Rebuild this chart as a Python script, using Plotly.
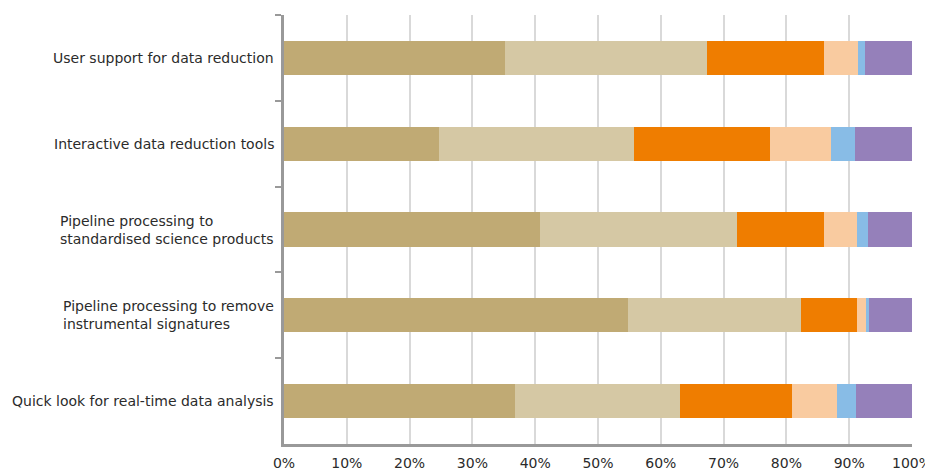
import plotly.graph_objects as go

categories = [
    "User support for data reduction",
    "Interactive data reduction tools",
    "Pipeline processing to<br>standardised science products",
    "Pipeline processing to remove<br>instrumental signatures",
    "Quick look for real-time data analysis",
]

s1 = [35.2, 24.7, 40.8, 54.8, 36.8]
s2 = [32.2, 31.1, 31.4, 27.5, 26.3]
s3 = [18.6, 21.6, 13.8, 8.9, 17.8]
s4 = [5.4, 9.7, 5.2, 1.5, 7.2]
s5 = [1.1, 3.9, 1.8, 0.5, 3.0]
s6 = [7.5, 9.0, 7.0, 6.8, 8.9]

series = [s1, s2, s3, s4, s5, s6]
colors = ["#C0AA74", "#D5C8A4", "#EF7D00", "#F9CBA0", "#88BCE6", "#9580BA"]

xticks = [0, 10, 20, 30, 40, 50, 60, 70, 80, 90, 100]
xticklabels = [f"{v}%" for v in xticks]

FONT = "DejaVu Sans, Liberation Sans, Arial, sans-serif"

fig = go.Figure()
for vals, c in zip(series, colors):
    fig.add_trace(go.Bar(
        y=categories, x=vals, orientation="h",
        marker=dict(color=c, line=dict(width=0)),
        showlegend=False,
    ))

for cat in categories:
    fig.add_annotation(
        x=0, xref="paper", y=cat, yref="y",
        text=cat, showarrow=False, xanchor="right", yanchor="middle",
        align="left", xshift=-8,
        font=dict(family=FONT, size=14, color="#2b2b2b"),
    )

fig.update_layout(
    template="none",
    barmode="stack",
    bargap=0.6,
    width=925, height=465,
    margin=dict(l=276, r=21, t=7, b=29),
    plot_bgcolor="white", paper_bgcolor="white",
    font=dict(family=FONT, size=14, color="#2b2b2b"),
    xaxis=dict(
        range=[0, 100], tickvals=xticks, ticktext=xticklabels,
        showgrid=True, gridcolor="#D9D9D9", gridwidth=1.5,
        showline=True, linecolor="#999999", linewidth=2.5,
        ticks="", zeroline=False, fixedrange=True, automargin=False,
        ticklabelstandoff=4,
        tickfont=dict(family=FONT, size=14, color="#2b2b2b"),
    ),
    yaxis=dict(
        autorange="reversed",
        showline=True, linecolor="#999999", linewidth=2.5,
        ticks="outside", tickson="boundaries", ticklen=6, tickcolor="#999999", tickwidth=1.5,
        showgrid=False, fixedrange=True, showticklabels=False, automargin=False,
        zeroline=False,
    ),
)

fig.write_html("out.html")
